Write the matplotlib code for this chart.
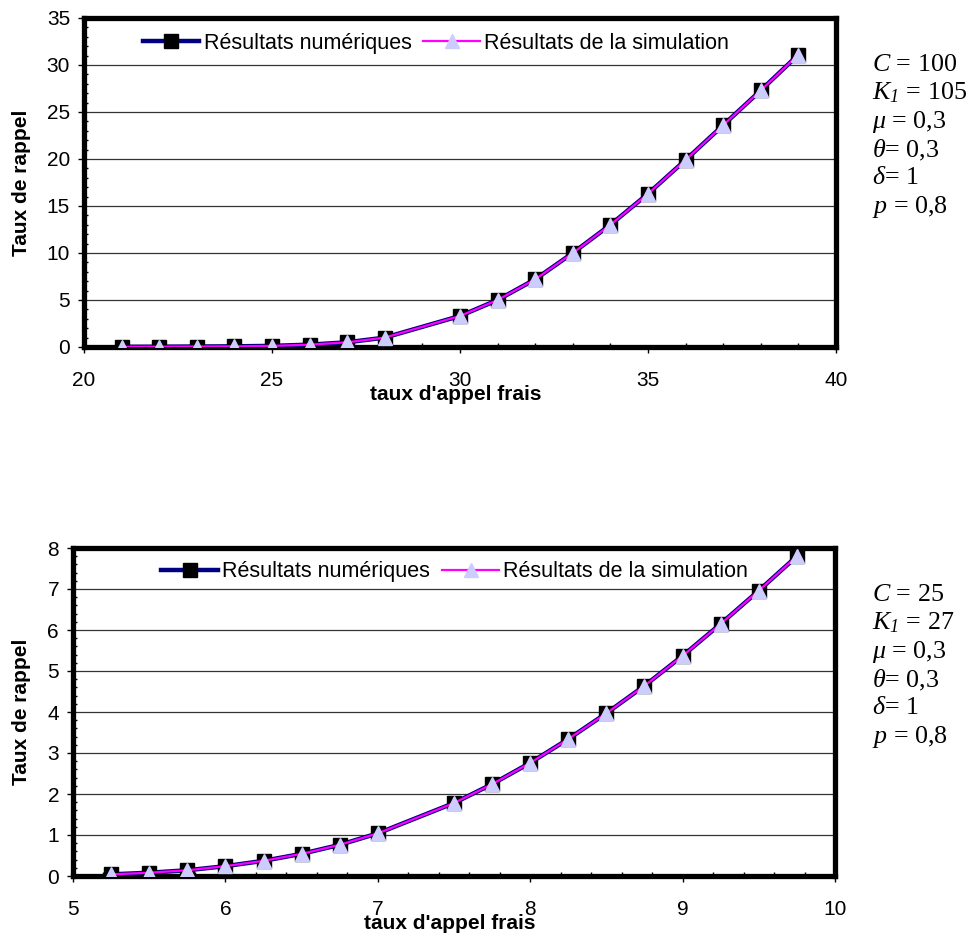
import matplotlib
matplotlib.use("Agg")
import matplotlib.pyplot as plt
from matplotlib.ticker import MultipleLocator

plt.rcParams['font.family'] = ['Liberation Sans', 'DejaVu Sans']
plt.rcParams['mathtext.fontset'] = 'custom'
plt.rcParams['mathtext.rm'] = 'Liberation Serif'
plt.rcParams['mathtext.it'] = 'Liberation Serif:italic'
plt.rcParams['mathtext.sf'] = 'Liberation Serif:italic'

# ---- data ----
x_top = [21, 22, 23, 24, 25, 26, 27, 28, 30, 31, 32, 33, 34, 35, 36, 37, 38, 39]
num_top = [0.02, 0.03, 0.05, 0.07, 0.12, 0.25, 0.5, 1.0, 3.3, 5.0, 7.2, 10.0, 13.0, 16.3, 19.9, 23.6, 27.3, 31.1]
sim_top = [0.02, 0.03, 0.05, 0.07, 0.12, 0.25, 0.5, 1.0, 3.3, 5.0, 7.2, 10.0, 13.0, 16.3, 19.9, 23.6, 27.3, 31.1]

x_bot = [5.25, 5.5, 5.75, 6, 6.25, 6.5, 6.75, 7, 7.5, 7.75, 8, 8.25, 8.5, 8.75, 9, 9.25, 9.5, 9.75]
num_bot = [0.04, 0.08, 0.14, 0.24, 0.37, 0.54, 0.76, 1.04, 1.78, 2.24, 2.76, 3.34, 3.97, 4.64, 5.37, 6.15, 6.96, 7.8]
sim_bot = [0.04, 0.08, 0.14, 0.24, 0.37, 0.54, 0.76, 1.04, 1.78, 2.24, 2.76, 3.34, 3.97, 4.64, 5.37, 6.15, 6.96, 7.8]

label_num = "Résultats numériques"
label_sim = "Résultats de la simulation"
xlabel = "taux d'appel frais"
ylabel = "Taux de rappel"

params_top = [r"$C$ = 100", r"$K_{\mathsf{1}}$ = 105", r"$\mu$ = 0,3", r"$\theta$= 0,3", r"$\delta$= 1", r"$p$ = 0,8"]
params_bot = [r"$C$ = 25", r"$K_{\mathsf{1}}$ = 27", r"$\mu$ = 0,3", r"$\theta$= 0,3", r"$\delta$= 1", r"$p$ = 0,8"]

W, H = 968, 934
fig = plt.figure(figsize=(W / 100, H / 100), dpi=100)


def make_ax(rect_px, xs, ns, ss, xlim, ylim, xmaj, xmin, ymaj, ymin, leg_center, ylab_x):
    l, t, r, b = rect_px
    ax = fig.add_axes([l / W, 1 - b / H, (r - l) / W, (b - t) / H])
    ax.plot(xs, ns, color='#000080', lw=3.2, marker='s', ms=9.5,
            mfc='black', mec='black', label=label_num, zorder=3)
    ax.plot(xs, ss, color='#FF00FF', lw=1.6, marker='^', ms=10.5,
            mfc='#CCCCFF', mec='#CCCCFF', label=label_sim, zorder=4)
    ax.set_xlim(*xlim)
    ax.set_ylim(*ylim)
    ax.xaxis.set_major_locator(MultipleLocator(xmaj))
    ax.xaxis.set_minor_locator(MultipleLocator(xmin))
    ax.yaxis.set_major_locator(MultipleLocator(ymaj))
    ax.yaxis.set_minor_locator(MultipleLocator(ymin))
    ax.grid(axis='y', which='major', color='#333333', lw=0.9, zorder=1)
    for s in ax.spines.values():
        s.set_linewidth(3.8)
        s.set_color('black')
    ax.tick_params(which='major', direction='out', length=4, width=1, labelsize=15, pad=13)
    ax.tick_params(which='minor', direction='in', length=3, width=1)
    ax.tick_params(axis='y', which='major', pad=6)
    ax.set_xlabel(xlabel, fontsize=15, fontweight='bold')
    ax.set_ylabel(ylabel, fontsize=15, fontweight='bold')
    ax.xaxis.set_label_coords(0.494, -0.115)
    ax.yaxis.set_label_coords(ylab_x, 0.5)
    ax.legend(loc='center', bbox_to_anchor=leg_center, ncol=2, frameon=False,
              fontsize=15.5, handlelength=2.64, handletextpad=0.2, columnspacing=0.55,
              borderaxespad=0)
    return ax


make_ax((84, 18, 836, 347), x_top, num_top, sim_top, (20, 40), (0, 35), 5, 1, 5, 1, (0.468, 0.924), -0.070)
make_ax((73, 548, 835, 876), x_bot, num_bot, sim_bot, (5, 10), (0, 8), 1, 0.2, 1, 0.2, (0.501, 0.927), -0.055)

ys_top = [65, 93, 122, 150, 178, 207]
ys_bot = [595, 623, 652, 680, 708, 737]
for txt, y in zip(params_top, ys_top):
    fig.text(872 / W, 1 - y / H, txt, family='Liberation Serif', fontsize=18.7, va='center', ha='left')
for txt, y in zip(params_bot, ys_bot):
    fig.text(872 / W, 1 - y / H, txt, family='Liberation Serif', fontsize=18.7, va='center', ha='left')

fig.savefig('out.png', dpi=100)
